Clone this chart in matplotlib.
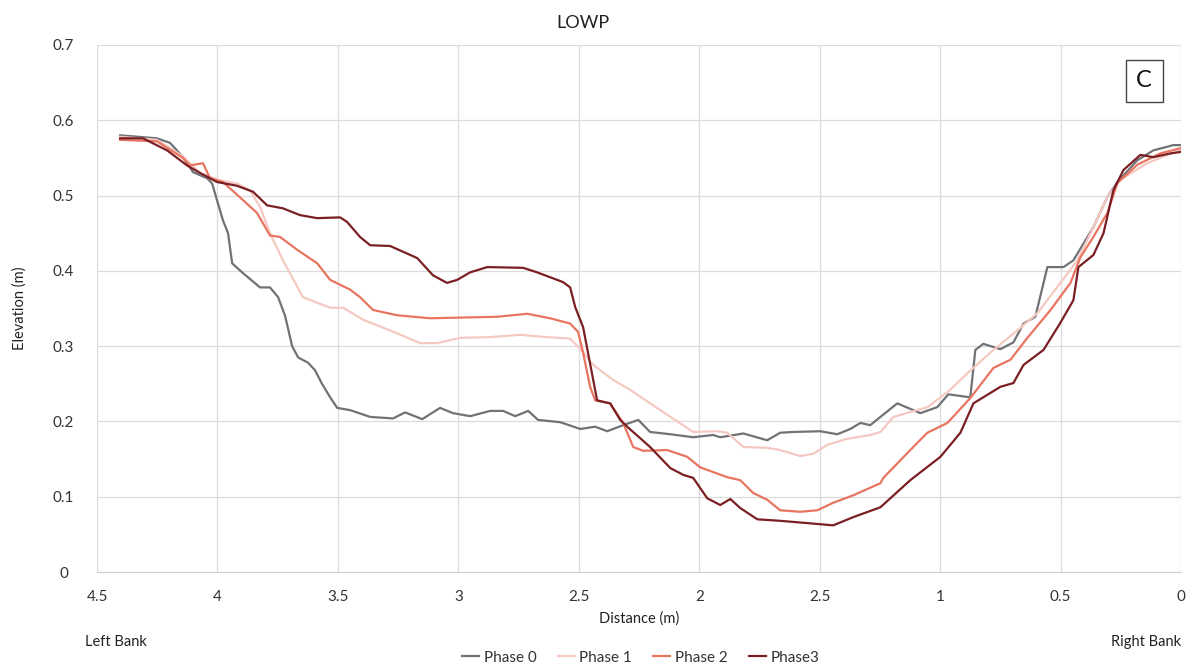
import matplotlib
matplotlib.use("Agg")
import matplotlib.pyplot as plt

plt.rcParams['font.family'] = ['Lato', 'DejaVu Sans']

# distance (m) from right bank, elevation (m)
p0_d = [4.404, 4.251, 4.197, 4.143, 4.101, 4.043, 4.022, 4.002, 3.977, 3.956,
        3.939, 3.894, 3.823, 3.782, 3.748, 3.719, 3.690, 3.665, 3.624, 3.595,
        3.566, 3.532, 3.503, 3.449, 3.366, 3.271, 3.221, 3.150, 3.076, 3.022,
        2.951, 2.868, 2.814, 2.764, 2.710, 2.669, 2.577, 2.494, 2.432, 2.382,
        2.316, 2.253, 2.204, 2.120, 2.025, 1.942, 1.913, 1.817, 1.718, 1.664,
        1.610, 1.498, 1.427, 1.373, 1.331, 1.290, 1.248, 1.178, 1.082, 1.012,
        0.966, 0.875, 0.854, 0.821, 0.750, 0.696, 0.654, 0.605, 0.555, 0.488,
        0.447, 0.364, 0.306, 0.264, 0.181, 0.115, 0.032, 0.0]
p0_y = [0.580, 0.576, 0.570, 0.551, 0.531, 0.523, 0.516, 0.494, 0.467, 0.450,
        0.410, 0.397, 0.378, 0.378, 0.365, 0.340, 0.300, 0.285, 0.278, 0.268,
        0.250, 0.232, 0.218, 0.215, 0.206, 0.204, 0.212, 0.203, 0.218, 0.211,
        0.207, 0.214, 0.214, 0.207, 0.214, 0.202, 0.199, 0.190, 0.193, 0.187,
        0.195, 0.202, 0.186, 0.183, 0.179, 0.182, 0.179, 0.184, 0.175, 0.185,
        0.186, 0.187, 0.183, 0.190, 0.198, 0.195, 0.206, 0.224, 0.211, 0.219,
        0.236, 0.232, 0.295, 0.303, 0.296, 0.305, 0.330, 0.339, 0.405, 0.405,
        0.414, 0.458, 0.498, 0.518, 0.547, 0.560, 0.567, 0.567]

p1_d = [4.404, 4.251, 4.143, 4.072, 3.989, 3.919, 3.865, 3.823, 3.782, 3.728,
        3.645, 3.532, 3.478, 3.395, 3.254, 3.159, 3.088, 2.993, 2.868, 2.743,
        2.631, 2.536, 2.482, 2.440, 2.357, 2.287, 2.162, 2.025, 1.925, 1.884,
        1.817, 1.718, 1.664, 1.581, 1.527, 1.468, 1.385, 1.290, 1.248, 1.194,
        1.053, 0.958, 0.887, 0.779, 0.679, 0.596, 0.501, 0.430, 0.364, 0.306,
        0.252, 0.140, 0.056, 0.0]
p1_y = [0.578, 0.574, 0.552, 0.530, 0.520, 0.516, 0.507, 0.485, 0.450, 0.414,
        0.365, 0.351, 0.351, 0.335, 0.317, 0.304, 0.304, 0.311, 0.312, 0.315,
        0.312, 0.310, 0.292, 0.275, 0.255, 0.242, 0.215, 0.186, 0.187, 0.185,
        0.166, 0.165, 0.162, 0.154, 0.157, 0.169, 0.177, 0.182, 0.186, 0.206,
        0.219, 0.242, 0.264, 0.295, 0.321, 0.344, 0.384, 0.414, 0.458, 0.498,
        0.521, 0.543, 0.554, 0.560]

p2_d = [4.404, 4.251, 4.143, 4.114, 4.060, 4.031, 3.977, 3.894, 3.836, 3.782,
        3.740, 3.669, 3.586, 3.532, 3.449, 3.408, 3.354, 3.254, 3.117, 2.980,
        2.839, 2.714, 2.619, 2.536, 2.503, 2.482, 2.453, 2.432, 2.370, 2.316,
        2.274, 2.233, 2.133, 2.050, 1.996, 1.884, 1.830, 1.776, 1.718, 1.664,
        1.581, 1.510, 1.444, 1.360, 1.248, 1.236, 1.124, 1.053, 0.970, 0.875,
        0.779, 0.708, 0.638, 0.542, 0.459, 0.418, 0.364, 0.306, 0.264, 0.181,
        0.086, 0.0]
p2_y = [0.574, 0.572, 0.550, 0.540, 0.543, 0.523, 0.518, 0.494, 0.477, 0.447,
        0.445, 0.428, 0.410, 0.388, 0.375, 0.365, 0.348, 0.341, 0.337, 0.338,
        0.339, 0.343, 0.337, 0.330, 0.319, 0.291, 0.246, 0.228, 0.224, 0.198,
        0.166, 0.161, 0.162, 0.153, 0.139, 0.126, 0.122, 0.105, 0.096, 0.082,
        0.080, 0.082, 0.092, 0.102, 0.118, 0.125, 0.162, 0.185, 0.198, 0.231,
        0.271, 0.282, 0.311, 0.348, 0.384, 0.418, 0.445, 0.477, 0.517, 0.541,
        0.556, 0.563]

p3_d = [4.404, 4.309, 4.209, 4.126, 4.072, 4.002, 3.919, 3.852, 3.794, 3.728,
        3.657, 3.586, 3.491, 3.462, 3.408, 3.366, 3.283, 3.171, 3.105, 3.047,
        3.005, 2.951, 2.880, 2.731, 2.673, 2.565, 2.536, 2.515, 2.482, 2.424,
        2.370, 2.328, 2.299, 2.204, 2.120, 2.066, 2.025, 1.967, 1.913, 1.871,
        1.830, 1.759, 1.664, 1.552, 1.444, 1.360, 1.248, 1.124, 0.999, 0.916,
        0.862, 0.750, 0.696, 0.654, 0.571, 0.501, 0.447, 0.426, 0.364, 0.322,
        0.281, 0.239, 0.169, 0.115, 0.044, 0.0]
p3_y = [0.576, 0.576, 0.560, 0.540, 0.530, 0.518, 0.513, 0.505, 0.487, 0.483,
        0.474, 0.470, 0.471, 0.465, 0.445, 0.434, 0.433, 0.417, 0.394, 0.384,
        0.388, 0.398, 0.405, 0.404, 0.398, 0.385, 0.378, 0.352, 0.325, 0.228,
        0.224, 0.202, 0.193, 0.166, 0.138, 0.129, 0.125, 0.098, 0.089, 0.097,
        0.085, 0.070, 0.068, 0.065, 0.062, 0.073, 0.086, 0.122, 0.153, 0.185,
        0.224, 0.246, 0.251, 0.275, 0.295, 0.331, 0.361, 0.405, 0.421, 0.450,
        0.507, 0.534, 0.554, 0.551, 0.556, 0.558]

series = [("Phase 0", p0_d, p0_y, "#707276"),
          ("Phase 1", p1_d, p1_y, "#f5c9c2"),
          ("Phase 2", p2_d, p2_y, "#e87560"),
          ("Phase3", p3_d, p3_y, "#7a1f24")]

xticks = [4.5, 4, 3.5, 3, 2.5, 2, 1.5, 1, 0.5, 0]
xtick_labels = ["4.5", "4", "3.5", "3", "2.5", "2", "2.5", "1", "0.5", "0"]
yticks = [0, 0.1, 0.2, 0.3, 0.4, 0.5, 0.6, 0.7]

fig = plt.figure(figsize=(11.93, 6.71), dpi=100)
ax = fig.add_axes([0.0813, 0.1475, 0.9087, 0.7855])

for name, d, y, c in series:
    ax.plot(d, y, color=c, lw=1.6, label=name, solid_joinstyle="round")

ax.set_xlim(4.5, 0)
ax.set_ylim(0, 0.7)
ax.set_xticks(xticks)
ax.set_xticklabels(xtick_labels)
ax.set_yticks(yticks)
ax.set_yticklabels(["0", "0.1", "0.2", "0.3", "0.4", "0.5", "0.6", "0.7"])
ax.grid(True, color="#dcdcdc", lw=0.9)
ax.set_axisbelow(True)
for s in ["left", "right", "top"]:
    ax.spines[s].set_visible(False)
ax.spines["bottom"].set_color("#d0d0d0")
ax.tick_params(length=0, labelsize=11, colors="#333333")
ax.tick_params(axis="x", pad=13)
ax.tick_params(axis="y", pad=24)
for lbl in ax.get_yticklabels():
    lbl.set_horizontalalignment("center")

ax.set_xlabel("Distance (m)", fontsize=10.5, color="#222222", labelpad=5)
ax.set_ylabel("Elevation (m)", fontsize=10.5, color="#222222", labelpad=19)

fig.text(0.489, 0.965, "LOWP", ha="center", va="center", fontsize=13, color="#222222")
fig.text(0.071, 0.043, "Left Bank", ha="left", va="center", fontsize=10.5, color="#222222")
fig.text(0.990, 0.043, "Right Bank", ha="right", va="center", fontsize=10.5, color="#222222")

ax.text(0.966, 0.932, "C", transform=ax.transAxes, ha="center", va="center",
        fontsize=17, color="#111111",
        bbox=dict(boxstyle="square,pad=0.45", fc="white", ec="#444444", lw=1.0))

fig.legend(loc="center", bbox_to_anchor=(0.537, 0.02), ncol=4, frameon=False,
           fontsize=11, handlelength=1.1, handletextpad=0.3, columnspacing=1.4,
           labelcolor="#333333")

fig.savefig("out.png", dpi=100)
